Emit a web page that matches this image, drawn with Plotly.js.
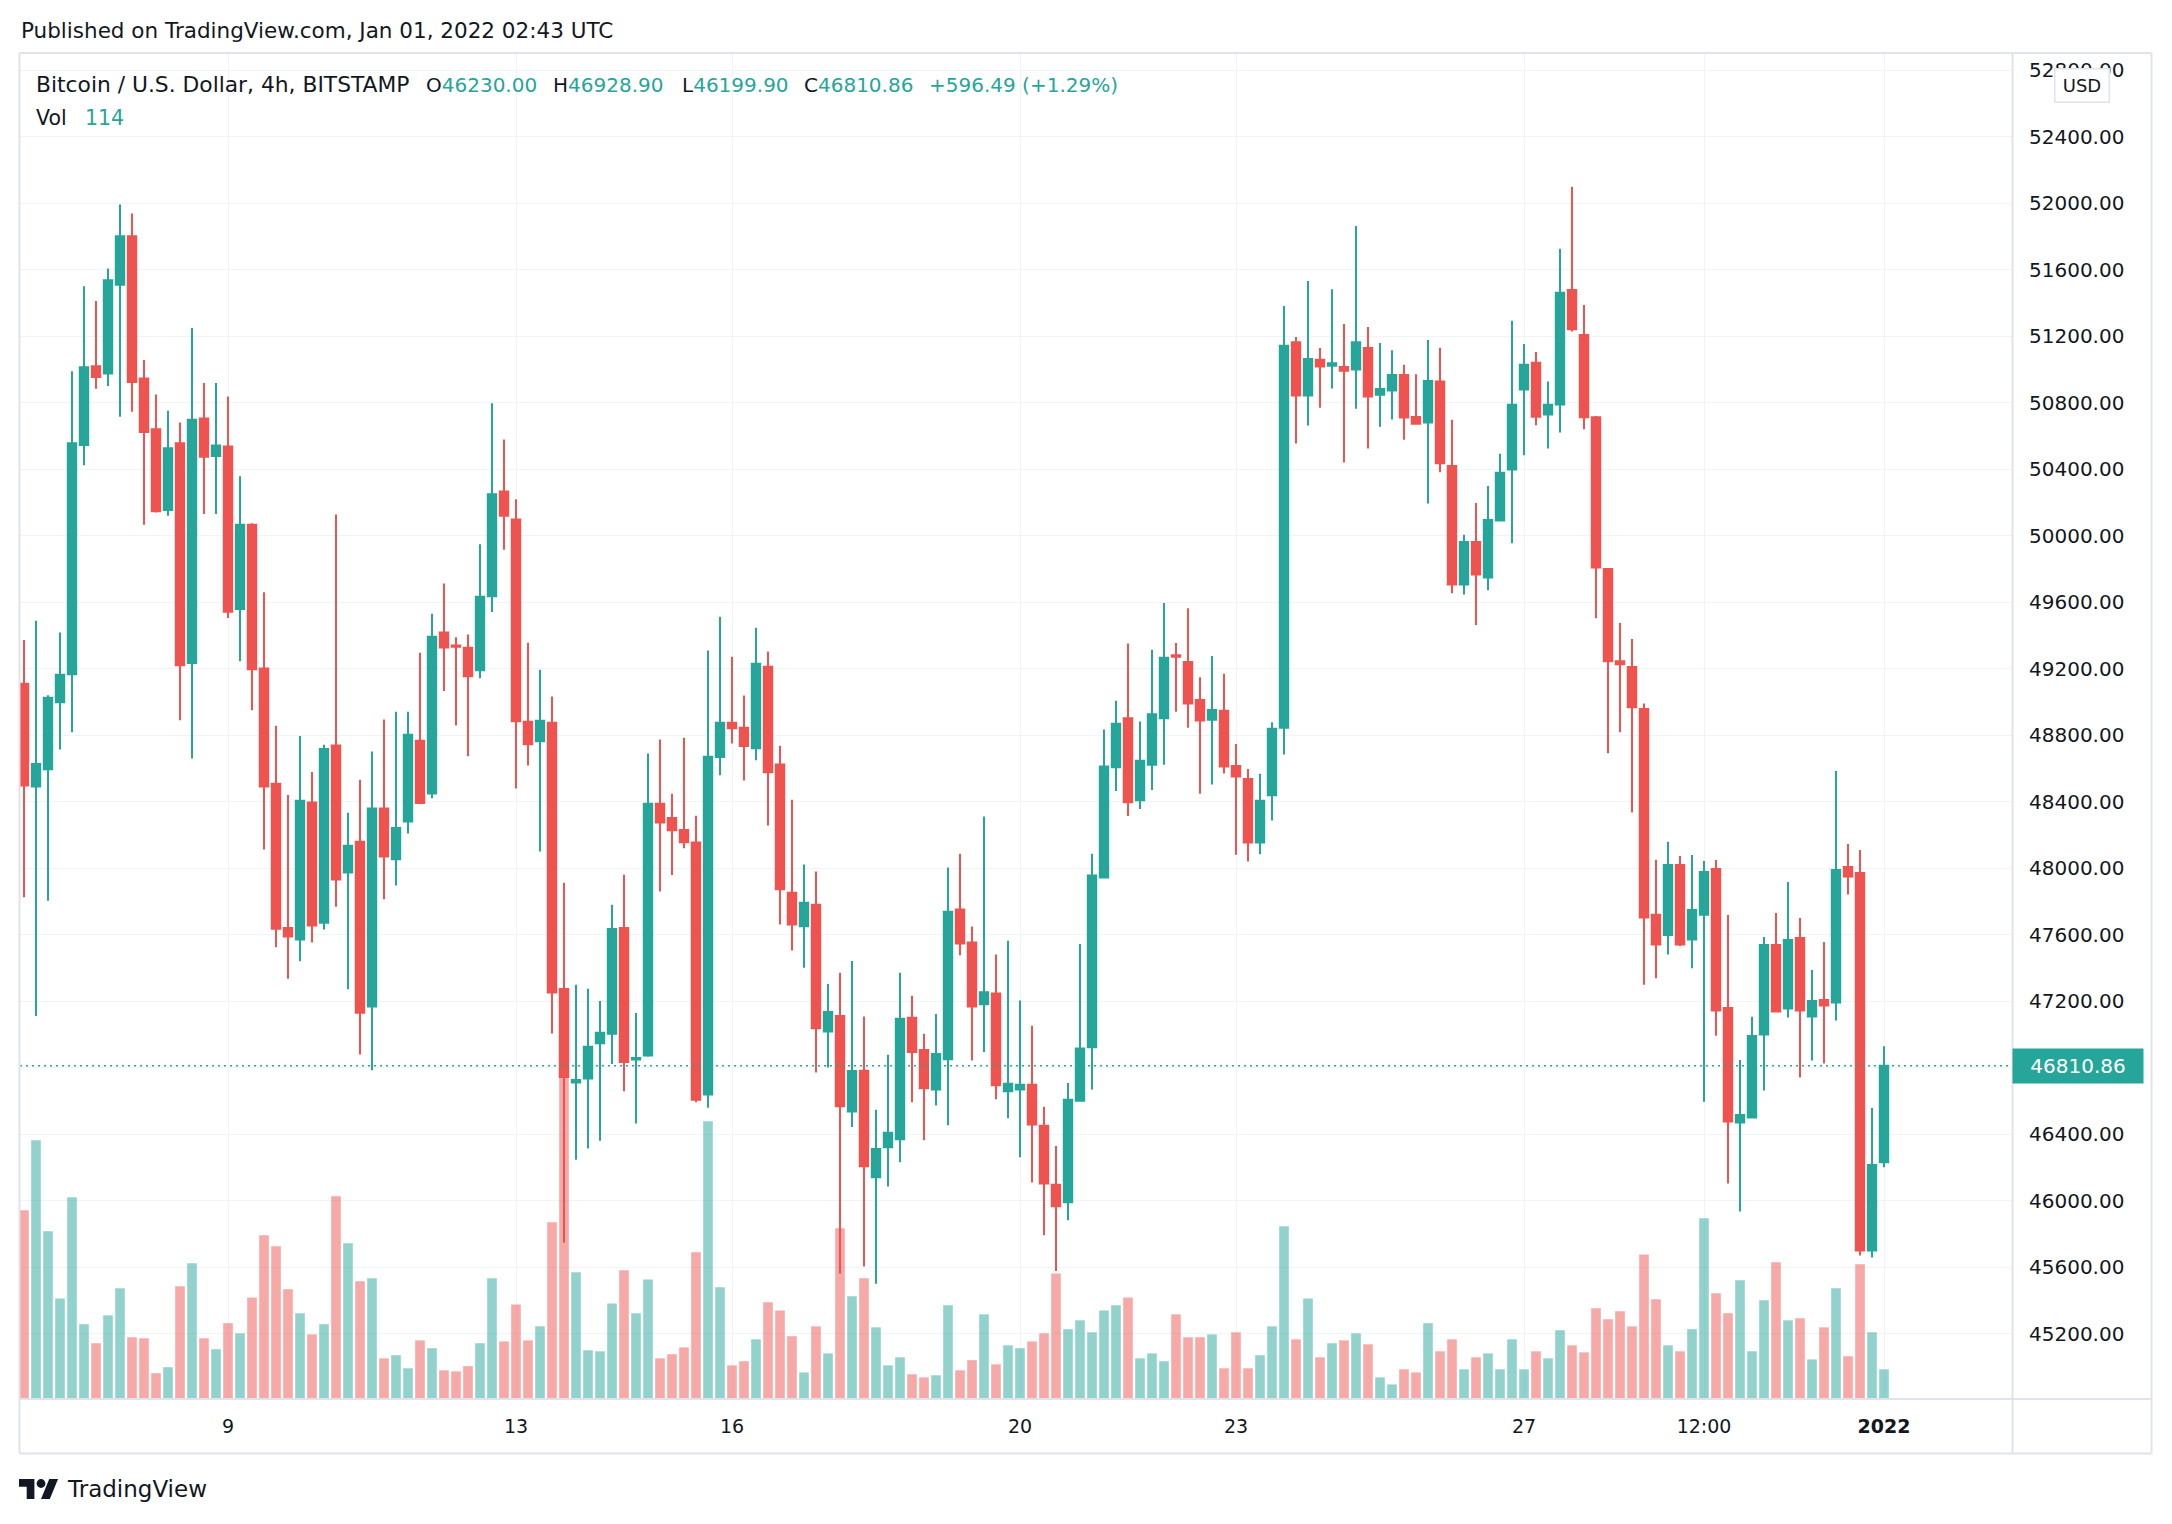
<!DOCTYPE html>
<html>
<head>
<meta charset="utf-8">
<script src="https://cdn.plot.ly/plotly-3.0.1.min.js"></script>
<style>
html,body{margin:0;padding:0;background:#ffffff;}
#chart{width:2172px;height:1524px;}
</style>
</head>
<body>
<div id="chart"></div>
<script>
// ---- Data (BTC/USD, 4h candles, Bitstamp) ----
const openPrices = [
49109,48491,48595,48998,49167,50546,51020,50976,51510,51801,
50945,50641,50154,50556,49234,50705,50479,50536,49559,50066,
49201,48507,47639,47571,48394,47672,48737,47973,48158,47168,
48358,48053,48280,48767,48449,49417,49340,49326,49190,49636,
50266,50097,48880,48764,48875,47273,46710,46734,46946,47004,
47640,46848,46872,48387,48302,48230,48154,46638,48668,48874,
48845,48721,49211,48623,47852,47650,47780,47017,47110,46535,
46781,46140,46321,46368,47099,46906,46668,46850,47751,47552,
47181,47245,46657,46668,46697,46450,46095,45989,46601,46922,
47944,48607,48901,48408,48622,48901,49281,49240,49012,48893,
48946,48615,48536,48154,48438,48845,51164,50843,51058,51023,
51015,51000,51129,50848,50873,50967,50714,50681,50927,50420,
49707,49962,49748,50092,50398,50879,51041,50729,50790,51478,
51207,50713,49799,49245,49210,48958,47719,47598,48019,47570,
47720,47995,47159,46469,46499,46999,47538,47155,47580,47107,
47207,47191,48007,47971,45699,46230];

const highPrices = [
49373,49488,49040,49417,50989,51500,51412,51608,51993,51939,
51057,50850,50752,50681,51249,50918,50918,50837,50357,50075,
49660,48856,48440,48795,48579,48742,50128,48333,48532,48701,
48894,48941,48941,49295,49530,49713,49389,49406,49948,50797,
50579,50219,49356,49193,49033,47912,47298,47274,47200,47780,
47960,47129,48689,48774,48448,48784,48315,49309,49513,49272,
49038,49446,49303,48736,48411,48021,47979,47303,47370,47441,
47107,46546,46877,47370,47232,47004,47123,48003,48087,47648,
48310,47481,47563,47203,47052,46564,46328,46707,47544,48087,
48834,49007,49351,48882,49314,49595,49354,49564,49149,49276,
49169,48746,48597,48567,48878,51382,51195,51532,51129,51483,
51273,51863,51256,51159,51116,51028,50972,51178,51130,50697,
50006,50197,50299,50493,51293,51153,51105,50927,51726,52099,
51388,50720,49800,49474,49379,48990,48051,48159,48073,48079,
48043,48049,47718,46846,47105,47586,47730,47917,47700,47387,
47556,48584,48145,48109,46557,46928.90];

const lowPrices = [
47825,47111,47804,48714,48818,50424,50884,50901,50715,50746,
50066,50140,50120,48889,48660,50130,50130,49505,49244,48950,
48112,47524,47334,47439,47553,47630,47768,47271,46878,46784,
47813,47896,48208,48385,48421,49066,48858,48673,49143,49541,
49915,48479,48618,48100,47005,45746,46246,46313,46360,46821,
46657,46464,46865,47860,47958,48119,46591,46559,48559,48750,
48527,48649,48257,47661,47505,47401,46771,46800,45560,46442,
45603,45500,46085,46230,46591,46363,46572,46453,47476,46842,
46893,46609,46495,46260,46109,45791,45576,45881,46595,46668,
47940,48464,48313,48355,48470,48622,48941,48845,48448,48503,
48569,48080,48040,48083,48286,48683,50554,50663,50769,50886,
50440,50764,50524,50656,50699,50577,50668,50194,50382,49653,
49646,49462,49672,50086,49955,50484,50665,50525,50621,51229,
50640,49503,48691,48818,48334,47299,47337,47481,47531,47398,
46595,46992,46102,45934,46495,46662,47135,47101,46740,46842,
46824,47083,47841,45669,45657,46199.90];

const closePrices = [
48497,48626,49025,49163,50556,51013,50955,51537,51801,50925,
50624,50147,50526,49221,50698,50475,50543,49542,50066,49197,
48491,47635,47588,48406,47655,48717,47932,48134,47130,48358,
48070,48241,48803,48391,49392,49328,49332,49154,49633,50250,
50120,48883,48745,48886,47251,46743,46725,46925,47009,47634,
46834,46858,48387,48275,48228,48156,46607,48670,48874,48842,
48734,49229,48577,47873,47661,47791,47036,47134,46567,46779,
46207,46310,46408,47094,46893,46676,46882,47738,47547,47168,
47253,46694,46702,46697,46458,46103,45966,46607,46914,47955,
48612,48869,48397,48646,48926,49265,49271,48990,48888,48951,
48612,48551,48154,48405,48838,51142,50843,51063,51018,51038,
50992,51164,50838,50883,50967,50711,50673,50930,50436,49707,
49962,49767,50095,50379,50787,51029,50716,50787,51462,51242,
50713,49809,49245,49226,48968,47703,47541,48019,47541,47748,
47977,47143,46475,46515,46990,47538,47137,47568,47143,47201,
47173,47989,47949,45699,46214.37,46810.86];

const volumes = [
724,993,644,386,774,287,214,321,425,237,
233,99,122,433,521,233,191,291,252,390,
628,586,421,329,248,287,778,598,452,463,
156,168,118,225,195,110,106,126,214,463,
221,363,225,279,678,1232,486,187,183,367,
494,329,459,156,172,198,563,1066,429,129,
145,229,371,340,241,102,279,175,655,394,
463,275,129,160,95,83,91,360,110,149,
325,133,206,195,221,252,482,268,302,256,
340,360,390,156,175,145,325,237,237,248,
118,256,118,168,279,663,229,386,160,214,
225,252,210,83,56,114,102,291,183,229,
114,160,175,114,229,114,183,156,264,206,
179,348,306,337,279,555,383,206,183,268,
694,406,329,456,183,379,525,302,310,152,
275,425,164,517,256,114];

// time axis: candle index of each label (4h bars, first bar Dec 6 04:00 UTC)
const tickIndex  = [17, 41, 59, 83, 101, 125, 140, 155];
const tickLabels = ['9', '13', '16', '20', '23', '27', '12:00', '<b>2022</b>'];

const symbolTitle = 'Bitcoin / U.S. Dollar, 4h, BITSTAMP';
const publishedText = 'Published on TradingView.com, Jan 01, 2022 02:43 UTC';

// ---- Styling / geometry ----
const W = 2172, H = 1524;
const ML = 20, MR = 160, MT = 53, MB = 125;
const PW = W - ML - MR, PH = H - MT - MB;
const px = x => (x - ML) / PW;
const py = y => (H - MB - y) / PH;
const FONT = 'DejaVu Sans, Verdana, sans-serif';
const TEXT = '#131722', UP = '#26a69a', DOWN = '#ef5350';
const BORDER = '#e0e3eb', GRID = '#f0f3fa';

const n = closePrices.length;
const last = n - 1;
const idx = closePrices.map((_, i) => i);
const lastUp = closePrices[last] >= openPrices[last];
const valColor = lastUp ? UP : DOWN;
const chg = closePrices[last] - closePrices[last - 1];
const pct = chg / closePrices[last - 1] * 100;
const sgn = v => (v >= 0 ? '+' : '') + v.toFixed(2);

const volTrace = {
  type: 'bar', x: idx, y: volumes, xaxis: 'x', yaxis: 'y',
  marker: {
    color: volumes.map((v, i) => closePrices[i] >= openPrices[i] ? 'rgba(38,166,154,0.5)' : 'rgba(239,83,80,0.5)'),
    line: {width: 0}
  },
  hoverinfo: 'skip'
};

const candleTrace = {
  type: 'candlestick', x: idx,
  open: openPrices, high: highPrices, low: lowPrices, close: closePrices,
  xaxis: 'x', yaxis: 'y2',
  increasing: {line: {color: UP, width: 2}, fillcolor: UP},
  decreasing: {line: {color: DOWN, width: 2}, fillcolor: DOWN},
  whiskerwidth: 0,
  hoverinfo: 'skip'
};

function hline(y, x0, x1, w) {
  return {type: 'line', xref: 'paper', yref: 'paper', x0: px(x0), x1: px(x1), y0: py(y), y1: py(y),
          line: {color: BORDER, width: w || 2}, layer: 'above'};
}
function vline(x, y0, y1, w) {
  return {type: 'line', xref: 'paper', yref: 'paper', x0: px(x), x1: px(x), y0: py(y0), y1: py(y1),
          line: {color: BORDER, width: w || 2}, layer: 'above'};
}
function poly(points, ox, oy, s) {
  return 'M' + points.map(p => px(ox + p[0] * s) + ',' + py(oy + p[1] * s)).join(' L') + ' Z';
}

// TradingView logo (simplified from its SVG mark)
const LX = 19, LY = 1474.7, LS = 1.1;
const logoShapes = [
  {type: 'path', xref: 'paper', yref: 'paper', path: poly([[14,22],[7,22],[7,11],[0,11],[0,4],[14,4]], LX, LY, LS),
   fillcolor: TEXT, line: {width: 0}},
  {type: 'path', xref: 'paper', yref: 'paper', path: poly([[28,22],[20,22],[27.5,4],[35.5,4]], LX, LY, LS),
   fillcolor: TEXT, line: {width: 0}},
  {type: 'circle', xref: 'paper', yref: 'paper',
   x0: px(LX + 16 * LS), x1: px(LX + 24 * LS), y0: py(LY + 4 * LS), y1: py(LY + 12 * LS),
   fillcolor: TEXT, line: {width: 0}}
];

const shapes = [
  // last price dotted line
  {type: 'line', xref: 'paper', yref: 'y2', x0: 0, x1: 1, y0: closePrices[last], y1: closePrices[last],
   line: {color: valColor, width: 1.5, dash: '2px,4px'}, layer: 'above'},
  // frame
  hline(53, 19.5, 2151.5), hline(1453.5, 19.5, 2151.5), hline(1399, 19.5, 2151.5),
  vline(19.5, 53, 1453.5), vline(2151.5, 53, 1453.5), vline(2012.5, 53, 1453.5),
  ...logoShapes
];

function ann(text, x, y, size, color, extra) {
  return Object.assign({
    text: text, xref: 'paper', yref: 'paper', x: px(x), y: py(y),
    xanchor: 'left', yanchor: 'middle', showarrow: false,
    font: {family: FONT, size: size, color: color || TEXT}, borderpad: 0
  }, extra || {});
}
const span = t => '<span style="color:' + valColor + '">' + t + '</span>';

const annotations = [
  ann(publishedText, 20, 30, 21.5),
  ann(symbolTitle, 35, 84.5, 21.8),
  ann('O' + span(openPrices[last].toFixed(2)), 425, 84.5, 20),
  ann('H' + span(highPrices[last].toFixed(2)), 552, 84.5, 20),
  ann('L' + span(lowPrices[last].toFixed(2)), 681, 84.5, 20),
  ann('C' + span(closePrices[last].toFixed(2)), 803, 84.5, 20),
  ann(span(sgn(chg) + ' (' + sgn(pct) + '%)'), 928, 84.5, 20),
  ann('Vol', 35, 118, 20.5),
  ann(span(String(volumes[last])), 84, 118, 20.5),
  ann('TradingView', 66, 1489, 23, TEXT),
  // currency badge
  {text: 'USD', xref: 'paper', yref: 'paper', x: px(2081.5), y: py(85), xanchor: 'center', yanchor: 'middle',
   showarrow: false, font: {family: FONT, size: 18, color: TEXT}, bgcolor: '#ffffff',
   bordercolor: BORDER, borderwidth: 1.5, borderpad: 4, width: 45, height: 24},
  // last price label
  {text: closePrices[last].toFixed(2), xref: 'paper', yref: 'y2', x: px(2012), y: closePrices[last],
   xanchor: 'left', yanchor: 'middle', showarrow: false, font: {family: FONT, size: 20, color: '#ffffff'},
   bgcolor: valColor, borderpad: 3, width: 124, height: 28, align: 'center'}
];

const layout = {
  width: W, height: H,
  paper_bgcolor: '#ffffff', plot_bgcolor: '#ffffff',
  margin: {l: ML, r: MR, t: MT, b: MB, pad: 0},
  showlegend: false, hovermode: false,
  bargap: 0.2, boxgap: 0.3, boxgroupgap: 0,
  xaxis: {
    type: 'linear', range: [-1 / 3, 165 + 2 / 3],
    tickmode: 'array', tickvals: tickIndex, ticktext: tickLabels,
    showgrid: true, gridcolor: GRID, gridwidth: 1, zeroline: false, showline: false,
    ticks: '', ticklabelstandoff: 14,
    tickfont: {family: FONT, size: 19, color: TEXT},
    rangeslider: {visible: false}, fixedrange: true
  },
  yaxis: {range: [0, 5166], visible: false, showgrid: false, zeroline: false, fixedrange: true},
  yaxis2: {
    overlaying: 'y', side: 'right', range: [44806, 52904],
    tick0: 0, dtick: 400, tickformat: '.2f',
    showgrid: true, gridcolor: GRID, gridwidth: 1, zeroline: false, showline: false,
    ticks: '', ticklabelstandoff: 16,
    tickfont: {family: FONT, size: 20, color: TEXT}, fixedrange: true
  },
  shapes: shapes,
  annotations: annotations
};

Plotly.newPlot('chart', [volTrace, candleTrace], layout, {displayModeBar: false, staticPlot: true});
</script>
</body>
</html>
